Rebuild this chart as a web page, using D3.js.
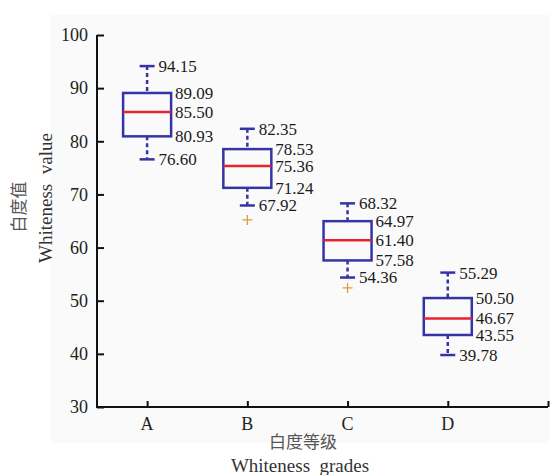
<!DOCTYPE html>
<html>
<head>
<meta charset="utf-8">
<script src="https://cdn.jsdelivr.net/npm/d3@7"></script>
<style>
  body { margin: 0; background: #fff; }
</style>
</head>
<body>
<div id="vis"></div>
<script>
// box stats
var grades = ["A", "B", "C", "D"];
var maxs   = [94.15, 82.35, 68.32, 55.29];
var q3s    = [89.09, 78.53, 64.97, 50.50];
var medians= [85.50, 75.36, 61.40, 46.67];
var q1s    = [80.93, 71.24, 57.58, 43.55];
var mins   = [76.60, 67.92, 54.36, 39.78];
var outliers = [[], [65.2], [52.4], []];
var yTicks = [30, 40, 50, 60, 70, 80, 90, 100];

var w = 550, h = 475;
var blue = "#3434a6", red = "#e8232b", orange = "#e39a3c";
var serif = "'Liberation Serif', 'Times New Roman', 'DejaVu Serif', serif";
var cjk = "'Noto Sans CJK SC', sans-serif";

var svg = d3.select("#vis").append("svg").attr("width", w).attr("height", h);

// light panel behind the plot
svg.append("rect").attr("x", 50).attr("y", 15).attr("width", 500).attr("height", 428)
  .attr("fill", "#fafafa");

var x = d3.scaleLinear().domain([0, 4.5]).range([97, 548]);
var y = d3.scaleLinear().domain([30, 100]).range([407, 35]);

//y axis
var yAxis = svg.append("g").attr("transform", "translate(97,0)")
  .call(d3.axisRight(y).tickValues(yTicks).tickSize(7).tickFormat(""));
yAxis.select(".domain").attr("d", "M0,35V407").attr("stroke", "#111").attr("stroke-width", 2);
yAxis.selectAll(".tick line").attr("stroke", "#111").attr("stroke-width", 2);
svg.selectAll(".ytl").data(yTicks).enter().append("text")
  .attr("x", 88).attr("y", function(d){ return y(d); }).attr("dy", "0.35em")
  .attr("text-anchor", "end").attr("font-size", 18).attr("fill", "#222")
  .style("font-family", serif)
  .text(function(d){ return d; });

//x axis
var xAxis = svg.append("g").attr("transform", "translate(0,407)")
  .call(d3.axisTop(x).tickValues([0.5, 1.5, 2.5, 3.5, 4.5]).tickSize(6).tickFormat(""));
xAxis.select(".domain").attr("d", "M96,0H548").attr("stroke", "#111").attr("stroke-width", 2);
xAxis.selectAll(".tick line").attr("stroke", "#111").attr("stroke-width", 2);
svg.selectAll(".xtl").data(grades).enter().append("text")
  .attr("x", function(d, i){ return x(i + 0.5); }).attr("y", 430)
  .attr("text-anchor", "middle").attr("font-size", 18).attr("fill", "#222")
  .style("font-family", serif)
  .text(function(d){ return d; });

// axis titles
svg.append("text").attr("x", 303).attr("y", 448).attr("text-anchor", "middle")
  .attr("font-size", 17).attr("fill", "#555").style("font-family", cjk)
  .text("白度等级");
svg.append("text").attr("x", 300).attr("y", 472).attr("text-anchor", "middle")
  .attr("font-size", 19).attr("fill", "#333").style("font-family", serif)
  .style("white-space", "pre").text("Whiteness  grades");
svg.append("text").attr("transform", "translate(25,207) rotate(-90)").attr("text-anchor", "middle")
  .attr("font-size", 17).attr("fill", "#555").style("font-family", cjk)
  .text("白度值");
svg.append("text").attr("transform", "translate(52,198) rotate(-90)").attr("text-anchor", "middle")
  .attr("font-size", 19).attr("fill", "#333").style("font-family", serif)
  .style("white-space", "pre").text("Whiteness  value");

// boxes
var bw = 48, cw = 15;
var g = svg.selectAll(".box").data(grades).enter().append("g");
g.each(function(d, i) {
  var s = d3.select(this), cx = x(i + 0.5);
  // whiskers
  [[maxs[i], q3s[i]], [q1s[i], mins[i]]].forEach(function(p) {
    s.append("line").attr("x1", cx).attr("x2", cx).attr("y1", y(p[0])).attr("y2", y(p[1]))
      .attr("stroke", blue).attr("stroke-width", 2.5).attr("stroke-dasharray", "4,3");
  });
  [maxs[i], mins[i]].forEach(function(v) {
    s.append("line").attr("x1", cx - cw/2).attr("x2", cx + cw/2).attr("y1", y(v)).attr("y2", y(v))
      .attr("stroke", blue).attr("stroke-width", 2.5);
  });
  s.append("rect").attr("x", cx - bw/2).attr("y", y(q3s[i])).attr("width", bw)
    .attr("height", y(q1s[i]) - y(q3s[i])).attr("fill", "none")
    .attr("stroke", blue).attr("stroke-width", 2.5);
  s.append("line").attr("x1", cx - bw/2).attr("x2", cx + bw/2)
    .attr("y1", y(medians[i])).attr("y2", y(medians[i]))
    .attr("stroke", red).attr("stroke-width", 2.5);
  outliers[i].forEach(function(v) {
    s.append("path").attr("d", "M" + (cx - 5) + "," + y(v) + "h10M" + cx + "," + (y(v) - 5) + "v10")
      .attr("stroke", orange).attr("stroke-width", 1.3);
  });
  // value labels (font slightly reduced so neighbours don't collide)
  [[maxs[i], cx + cw/2 + 4], [q3s[i], cx + bw/2 + 4], [medians[i], cx + bw/2 + 4],
   [q1s[i], cx + bw/2 + 4], [mins[i], cx + cw/2 + 4]].forEach(function(p) {
    s.append("text").attr("x", p[1]).attr("y", y(p[0])).attr("dy", "0.35em")
      .attr("font-size", 17).attr("fill", "#1a1a1a").style("font-family", serif)
      .text(p[0].toFixed(2));
  });
});
</script>
</body>
</html>
